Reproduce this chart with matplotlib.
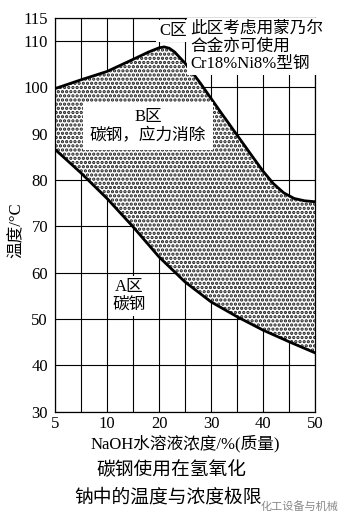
import matplotlib
matplotlib.use('Agg')
import matplotlib.pyplot as plt
import numpy as np

# upper limit of B zone
upper_x = [5, 7.5, 10, 12.5, 15, 18, 20, 21, 22, 23, 24, 25, 26, 28, 30, 32, 35, 38, 40, 42, 44, 46, 48, 50]
upper_y = [99.7, 101.6, 103.4, 104.7, 106.0, 107.6, 108.5, 108.7, 108.4, 107.6, 106.4, 105.2, 103.8,
           100.8, 97.6, 94.4, 89.7, 85.0, 81.9, 79.2, 77.2, 76.0, 75.5, 75.3]
# lower limit of B zone (A/B boundary)
lower_x = [5, 7.5, 10, 15, 20, 25, 30, 35, 40, 45, 50]
lower_y = [86.6, 81.5, 76.0, 69.9, 63.4, 58.0, 53.7, 50.5, 47.6, 45.1, 42.7]

x_ticks = [5, 10, 20, 30, 40, 50]
x_grid = [7.5, 15, 25, 35, 45]
y_ticks = [30, 40, 50, 60, 70, 80, 90, 100, 110, 115]

plt.rcParams['font.family'] = ['Liberation Serif', 'Noto Sans CJK SC']
plt.rcParams['hatch.linewidth'] = 1.6

fig = plt.figure(figsize=(3.48, 5.23), dpi=100)
ax = fig.add_axes([55 / 348, 1 - 411.7 / 523, 260 / 348, 394 / 523])

# x axis is squeezed between 5 and 10 (5..10 takes the same width as 10..20)
def fwd(x):
    x = np.asarray(x, dtype=float)
    return np.where(x < 10, 2 * x - 10, x)

def inv(t):
    t = np.asarray(t, dtype=float)
    return np.where(t < 10, (t + 10) / 2, t)

ax.set_xscale('function', functions=(fwd, inv))
ax.set_xlim(5, 50)
ax.set_ylim(30, 115)

ax.set_xticks(x_ticks)
ax.set_xticks(x_grid, minor=True)
ax.set_yticks(y_ticks)
ax.grid(which='both', color='black', linewidth=0.8)
ax.set_axisbelow(True)
ax.tick_params(which='both', length=0, labelsize=12)
ax.tick_params(axis='x', pad=3)
ax.tick_params(axis='y', pad=5)
for s in ax.spines.values():
    s.set_linewidth(0.9)

# stippled B zone
px = np.concatenate([upper_x, lower_x[::-1]])
py = np.concatenate([upper_y, lower_y[::-1]])
ax.fill(px, py, facecolor='white', edgecolor='#1a1a1a', hatch='....', linewidth=0, zorder=2)
ax.plot(upper_x, upper_y, color='black', linewidth=2, zorder=3, solid_joinstyle='round')
ax.plot(lower_x, lower_y, color='black', linewidth=2, zorder=3, solid_joinstyle='round')

box = dict(facecolor='white', edgecolor='none', pad=2)
ax.text(20.0, 112.2, 'C区', fontsize=12, ha='left', va='center', bbox=box, zorder=4)
ax.text(26.0, 114.4, '此区考虑用蒙乃尔\n合金亦可使用\nCr18%Ni8%型钢', fontsize=12, ha='left', va='top',
        linespacing=1.15, bbox=box, zorder=4)
ax.text(17.9, 91.6, 'B区\n碳钢，应力消除', fontsize=12, ha='center', va='center',
        linespacing=1.2, bbox=dict(facecolor='white', edgecolor='none', pad=5), zorder=4)
ax.text(14.2, 55.0, 'A区\n碳钢', fontsize=12, ha='center', va='center',
        linespacing=1.2, bbox=box, zorder=4)

ax.set_xlabel('NaOH水溶液浓度/%(质量)', fontsize=12, labelpad=2)
ax.set_ylabel('温度/°C', fontsize=12)
ax.yaxis.set_label_coords(-0.115, 0.46)

fig.text(171 / 348, 1 - 470 / 523, '碳钢使用在氢氧化', fontsize=13.5, ha='center', va='center')
fig.text(168 / 348, 1 - 498 / 523, '钠中的温度与浓度极限', fontsize=13.5, ha='center', va='center')
fig.text(338 / 348, 1 - 507 / 523, '化工设备与机械', fontsize=8, color='#888888', ha='right', va='center',
         family=['Noto Sans CJK SC'])

fig.savefig('out.png', dpi=100)
